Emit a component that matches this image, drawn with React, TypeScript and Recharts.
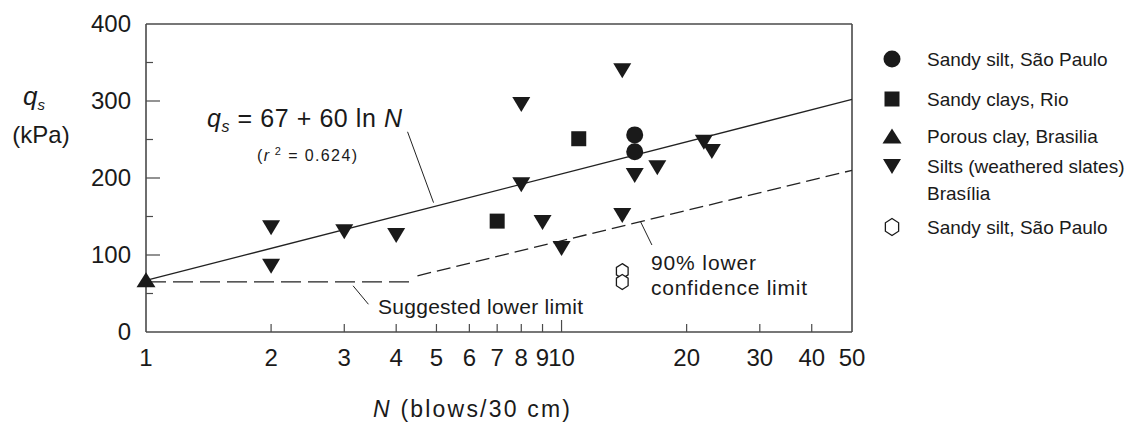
import React from 'react';
import { ScatterChart, Scatter, XAxis, YAxis, ReferenceLine, Legend } from 'recharts';

const INK = '#1a1a1a';
const AXIS = '#4a4a4a';
const FONT = '"Liberation Sans", Arial, Helvetica, sans-serif';

// N (blows/30 cm) ticks, log axis
const xTicks = [1, 2, 3, 4, 5, 6, 7, 8, 9, 10, 20, 30, 40, 50];
const yTicks = [0, 50, 100, 150, 200, 250, 300, 350, 400];

// measured points, q_s in kPa
const sandySiltSP = [
  { n: 15, q: 256 },
  { n: 15, q: 234 },
];
const sandyClaysRio = [
  { n: 7, q: 144 },
  { n: 11, q: 251 },
];
const porousClay = [{ n: 1, q: 68 }];
const silts = [
  { n: 2, q: 136 },
  { n: 2, q: 86 },
  { n: 3, q: 131 },
  { n: 4, q: 126 },
  { n: 8, q: 296 },
  { n: 8, q: 192 },
  { n: 9, q: 143 },
  { n: 10, q: 109 },
  { n: 14, q: 340 },
  { n: 14, q: 152 },
  { n: 15, q: 204 },
  { n: 17, q: 214 },
  { n: 22, q: 247 },
  { n: 23, q: 235 },
];
const sandySiltOpen = [
  { n: 14, q: 79 },
  { n: 14, q: 65 },
];

// lines
const fitLine = [
  { n: 1, q: 67 },
  { n: 50, q: 302 },
];
const lowerLimit = [
  { n: 1, q: 65 },
  { n: 4.3, q: 65 },
];
const confLimit = [
  { n: 4.5, q: 73 },
  { n: 50, q: 210 },
];

// leader lines for the labels
const leaders = [
  [{ x: 4.26, y: 260 }, { x: 4.92, y: 168 }],
  [{ x: 3.15, y: 60 }, { x: 3.43, y: 36 }],
  [{ x: 15.5, y: 143 }, { x: 16.5, y: 113 }],
];

const Dot = ({ cx, cy }: any) => <circle cx={cx} cy={cy} r={8.5} fill={INK} />;
const Square = ({ cx, cy }: any) => <rect x={cx - 7.5} y={cy - 7.5} width={15} height={15} fill={INK} />;
const UpTri = ({ cx, cy }: any) => (
  <polygon points={`${cx - 9.5},${cy + 7.5} ${cx + 9.5},${cy + 7.5} ${cx},${cy - 7.5}`} fill={INK} />
);
const DownTri = ({ cx, cy }: any) => (
  <polygon points={`${cx - 9},${cy - 7} ${cx + 9},${cy - 7} ${cx},${cy + 8}`} fill={INK} />
);
const Hexagon = ({ cx, cy, r = 7.5 }: any) => {
  const pts = [0, 60, 120, 180, 240, 300]
    .map((a) => {
      const t = ((a - 90) * Math.PI) / 180;
      return `${cx + r * 0.9 * Math.cos(t)},${cy + r * Math.sin(t)}`;
    })
    .join(' ');
  return <polygon points={pts} fill="#fff" stroke={INK} strokeWidth={1.3} />;
};
const NoDot = () => <g />;

const BottomTick = ({ x, y, payload }: any) => {
  const v = payload.value;
  const len = v === 1 || v === 50 ? 0 : v === 10 ? 12 : 8;
  return (
    <g>
      {len > 0 && <line x1={x} x2={x} y1={y} y2={y - len} stroke={AXIS} strokeWidth={1.2} />}
      <text x={x} y={y + 34} textAnchor="middle" fontSize={24} fill={INK}>
        {v}
      </text>
    </g>
  );
};

const TopTick = ({ x, y, payload }: any) => {
  const v = payload.value;
  if (v === 1 || v === 50) return <g />;
  const len = v === 10 ? 12 : 8;
  return <line x1={x} x2={x} y1={y} y2={y + len} stroke={AXIS} strokeWidth={1.2} />;
};

const LeftTick = ({ x, y, payload }: any) => {
  const v = payload.value;
  const major = v % 100 === 0;
  return (
    <g>
      {v !== 0 && v !== 400 && (
        <line x1={x} x2={x + (major ? 14 : 7)} y1={y} y2={y} stroke={AXIS} strokeWidth={1.2} />
      )}
      {major && (
        <text x={x - 15} y={y + 8} textAnchor="end" fontSize={24} fill={INK}>
          {v}
        </text>
      )}
    </g>
  );
};

const RightTick = ({ x, y, payload }: any) => {
  const v = payload.value;
  if (v === 0 || v === 400) return <g />;
  const major = v % 100 === 0;
  return <line x1={x} x2={x - (major ? 14 : 8)} y1={y} y2={y} stroke={AXIS} strokeWidth={1.2} />;
};

const legendRows = [
  { shape: 'dot', y: 19, text: 'Sandy silt, São Paulo' },
  { shape: 'square', y: 59, text: 'Sandy clays, Rio' },
  { shape: 'up', y: 96, text: 'Porous clay, Brasilia' },
  { shape: 'down', y: 126, text: 'Silts (weathered slates)' },
  { shape: 'none', y: 153, text: 'Brasília' },
  { shape: 'hex', y: 187, text: 'Sandy silt, São Paulo' },
];

const LegendBox = () => (
  <svg width={251} height={210} style={{ fontFamily: FONT, display: 'block' }}>
    {legendRows.map((r, i) => {
      const p = { cx: 12, cy: r.y };
      return (
        <g key={i}>
          {r.shape === 'dot' && <Dot {...p} />}
          {r.shape === 'square' && <Square {...p} />}
          {r.shape === 'up' && <UpTri {...p} />}
          {r.shape === 'down' && <DownTri {...p} />}
          {r.shape === 'hex' && <Hexagon {...p} r={8.5} />}
          <text x={47} y={r.y + 7} fontSize={19} fill={INK}>
            {r.text}
          </text>
        </g>
      );
    })}
  </svg>
);

export default function App() {
  return (
    <div style={{ position: 'absolute', left: 0, top: 0, fontFamily: FONT }}>
      <ScatterChart
        width={1131}
        height={424}
        margin={{ top: 20, right: 275, bottom: 52, left: 86 }}
        style={{ fontFamily: FONT, background: '#fff' }}
      >
        <XAxis
          xAxisId="x"
          type="number"
          dataKey="n"
          scale="log"
          domain={[1, 50]}
          ticks={xTicks}
          interval={0}
          height={40}
          tickSize={0}
          tickMargin={0}
          tickLine={false}
          tick={<BottomTick />}
          axisLine={{ stroke: AXIS, strokeWidth: 1.6 }}
        />
        <XAxis
          xAxisId="xt"
          orientation="top"
          type="number"
          dataKey="n"
          scale="log"
          domain={[1, 50]}
          ticks={xTicks}
          interval={0}
          height={4}
          tickSize={0}
          tickMargin={0}
          tickLine={false}
          tick={<TopTick />}
          axisLine={{ stroke: AXIS, strokeWidth: 1.6 }}
        />
        <YAxis
          yAxisId="y"
          type="number"
          dataKey="q"
          domain={[0, 400]}
          ticks={yTicks}
          interval={0}
          width={60}
          tickSize={0}
          tickMargin={0}
          tickLine={false}
          tick={<LeftTick />}
          axisLine={{ stroke: AXIS, strokeWidth: 1.6 }}
        />
        <YAxis
          yAxisId="yr"
          orientation="right"
          type="number"
          dataKey="q"
          domain={[0, 400]}
          ticks={yTicks}
          interval={0}
          width={4}
          tickSize={0}
          tickMargin={0}
          tickLine={false}
          tick={<RightTick />}
          axisLine={{ stroke: AXIS, strokeWidth: 1.6 }}
        />

        <Scatter
          xAxisId="x"
          yAxisId="y"
          data={fitLine}
          line={{ stroke: '#222', strokeWidth: 1.3 }}
          shape={<NoDot />}
          isAnimationActive={false}
          legendType="none"
        />
        <Scatter
          xAxisId="x"
          yAxisId="y"
          data={lowerLimit}
          line={{ stroke: '#222', strokeWidth: 1.3, strokeDasharray: '20 7' }}
          shape={<NoDot />}
          isAnimationActive={false}
          legendType="none"
        />
        <Scatter
          xAxisId="x"
          yAxisId="y"
          data={confLimit}
          line={{ stroke: '#222', strokeWidth: 1.3, strokeDasharray: '14 6' }}
          shape={<NoDot />}
          isAnimationActive={false}
          legendType="none"
        />

        {leaders.map((seg, i) => (
          <ReferenceLine
            key={i}
            xAxisId="x"
            yAxisId="y"
            segment={seg}
            stroke="#222"
            strokeWidth={1}
            ifOverflow="visible"
          />
        ))}

        <Scatter xAxisId="x" yAxisId="y" name="Silts (weathered slates) Brasília" data={silts} shape={<DownTri />} isAnimationActive={false} />
        <Scatter xAxisId="x" yAxisId="y" name="Sandy silt, São Paulo" data={sandySiltSP} shape={<Dot />} isAnimationActive={false} />
        <Scatter xAxisId="x" yAxisId="y" name="Sandy clays, Rio" data={sandyClaysRio} shape={<Square />} isAnimationActive={false} />
        <Scatter xAxisId="x" yAxisId="y" name="Porous clay, Brasilia" data={porousClay} shape={<UpTri />} isAnimationActive={false} />
        <Scatter xAxisId="x" yAxisId="y" name="Sandy silt, São Paulo (open)" data={sandySiltOpen} shape={<Hexagon />} isAnimationActive={false} />

        <Legend
          layout="horizontal"
          verticalAlign="middle"
          align="center"
          wrapperStyle={{ left: 880, top: 40, width: 251, height: 210 }}
          content={() => <LegendBox />}
        />

        {/* annotations */}
        <text x={207} y={127} fontSize={25} fill={INK} textLength={195} lengthAdjust="spacing">
          <tspan fontStyle="italic">q</tspan>
          <tspan fontSize={16} fontStyle="italic" dy={5}>s</tspan>
          <tspan dy={-5}> = 67 + 60 ln </tspan>
          <tspan fontStyle="italic">N</tspan>
        </text>
        <text x={257} y={161} fontSize={16} fill={INK} textLength={100} lengthAdjust="spacing">
          <tspan>(</tspan>
          <tspan fontStyle="italic">r</tspan>
          <tspan fontSize={11} dy={-6}> 2</tspan>
          <tspan dy={6}> = 0.624)</tspan>
        </text>
        <text x={378} y={314} fontSize={21} fill={INK} textLength={205} lengthAdjust="spacing">
          Suggested lower limit
        </text>
        <text x={651} y={270} fontSize={21} fill={INK} textLength={105} lengthAdjust="spacing">
          90% lower
        </text>
        <text x={651} y={295} fontSize={21} fill={INK} textLength={156} lengthAdjust="spacing">
          confidence limit
        </text>

        {/* axis titles */}
        <text x={34} y={105} fontSize={26} fill={INK} textAnchor="middle">
          <tspan fontStyle="italic">q</tspan>
          <tspan fontSize={15} fontStyle="italic" dy={5}>s</tspan>
        </text>
        <text x={41} y={143} fontSize={24} fill={INK} textAnchor="middle">
          (kPa)
        </text>
        <text x={373} y={417} fontSize={23} fill={INK} textLength={197} lengthAdjust="spacing">
          <tspan fontStyle="italic">N</tspan>
          <tspan>  (blows/30 cm)</tspan>
        </text>
      </ScatterChart>
    </div>
  );
}
